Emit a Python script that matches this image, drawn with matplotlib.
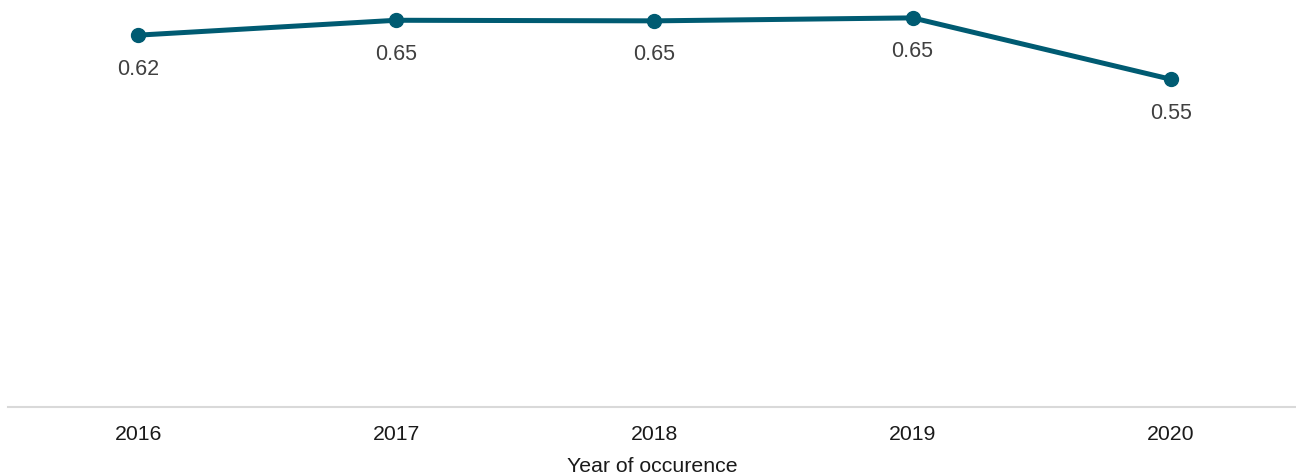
import matplotlib.pyplot as plt

years = ["2016", "2017", "2018", "2019", "2020"]
values = [0.624, 0.649, 0.648, 0.653, 0.550]
labels = ["0.62", "0.65", "0.65", "0.65", "0.55"]

plt.rcParams['font.family'] = ['Liberation Sans', 'DejaVu Sans']

fig = plt.figure(figsize=(12.96, 4.74), dpi=100)
ax = fig.add_axes([8 / 1296, (474 - 407) / 474, 1288 / 1296, 407 / 474])

x = list(range(len(years)))
ax.plot(x, values, color="#005b72", linewidth=3.6, marker="o", markersize=10,
        solid_capstyle="round", zorder=3)

for xi, v, lab in zip(x, values, labels):
    ax.annotate(lab, (xi, v), xytext=(0, -24.5), textcoords="offset points",
                ha="center", va="center", fontsize=15.5, color="#404040")

ax.set_xlim(-0.504, 4.485)
ax.set_ylim(0, 0.683)
ax.set_xticks(x)
ax.set_xticklabels(years, fontsize=15.3, color="#1a1a1a")
ax.set_yticks([])
ax.tick_params(axis="x", length=0, pad=13)
ax.set_xlabel("Year of occurence", fontsize=15.3, color="#1a1a1a", labelpad=9)

for s in ["top", "right", "left"]:
    ax.spines[s].set_visible(False)
ax.spines["bottom"].set_color("#d9d9d9")
ax.spines["bottom"].set_linewidth(1.5)

fig.savefig("out.png", dpi=100)
